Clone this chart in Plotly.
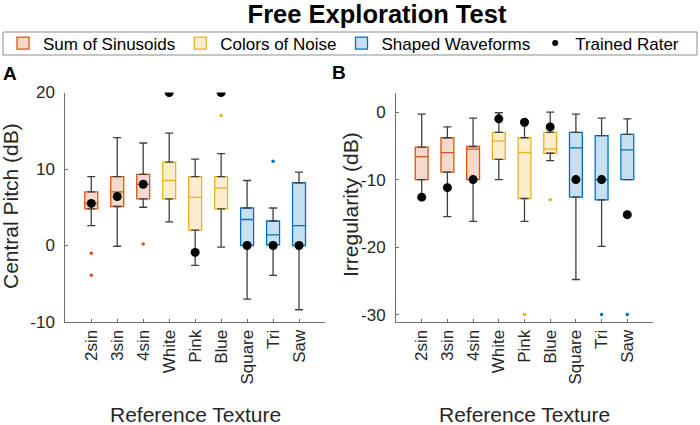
import plotly.graph_objects as go

categories = ["2sin", "3sin", "4sin", "White", "Pink", "Blue", "Square", "Tri", "Saw"]
groups = ["Sum of Sinusoids"] * 3 + ["Colors of Noise"] * 3 + ["Shaped Waveforms"] * 3

# Panel A: Central Pitch (dB)
a_ticks = [-10, 0, 10, 20]
a_low = [2.6, -0.1, 5.0, 3.1, -2.6, -0.2, -7.0, -3.9, -8.4]
a_q1 = [4.8, 5.1, 6.1, 6.1, 2.0, 4.8, 0.0, 0.1, 0.0]
a_med = [5.5, 7.0, 8.0, 8.5, 6.3, 7.5, 3.4, 1.4, 2.6]
a_q3 = [7.0, 9.0, 9.3, 10.9, 9.0, 9.0, 4.9, 3.2, 8.2]
a_high = [9.0, 14.1, 13.4, 14.7, 11.3, 12.0, 8.5, 4.9, 9.6]
a_out_x = ["2sin", "2sin", "4sin", "Blue", "Tri"]
a_out_y = [-1.0, -3.9, 0.2, 17.0, 11.0]
a_rater = [5.5, 6.4, 8.0, 20.0, -0.9, 20.0, 0.0, 0.0, 0.0]

# Panel B: Irregularity (dB)
b_ticks = [-30, -20, -10, 0]
b_low = [-12.6, -15.5, -16.2, -10.0, -16.2, -7.2, -24.8, -19.9, -10.0]
b_q1 = [-10.0, -8.9, -10.0, -7.0, -12.8, -6.1, -12.6, -13.0, -10.0]
b_med = [-6.6, -6.0, -5.5, -4.3, -6.0, -5.5, -5.3, -10.0, -5.6]
b_q3 = [-5.2, -3.8, -5.1, -3.0, -3.8, -3.0, -3.0, -3.5, -3.3]
b_high = [-0.3, -2.2, -0.9, -0.1, -1.3, 0.0, -0.3, -0.9, -1.0]
b_out_x = ["Pink", "Blue", "Tri", "Saw"]
b_out_y = [-30.0, -13.0, -30.0, -30.0]
b_rater = [-12.6, -11.2, -10.0, -1.0, -1.5, -2.2, -10.0, -10.0, -15.2]

line_col = {"Sum of Sinusoids": "#D95319", "Colors of Noise": "#EDB120", "Shaped Waveforms": "#0072BD"}
fill_col = {"Sum of Sinusoids": "rgba(217,83,25,0.22)", "Colors of Noise": "rgba(237,177,32,0.22)",
            "Shaped Waveforms": "rgba(0,114,189,0.22)"}
whisk_col = "#3f3f3f"
axis_col = "#6e6e6e"
FONT = "Liberation Sans, Arial, Helvetica, sans-serif"

W, H = 700, 425


def px(x):
    return x / W


def py(y):
    return 1 - y / H


pos = {c: i + 1 for i, c in enumerate(categories)}

fig = go.Figure()


def add_panel(xa, ya, low, q1, med, q3, high, out_x, out_y, rater, legend):
    xs = [pos[c] for c in categories]
    # whiskers (gray) drawn via error bars from box edges
    fig.add_trace(go.Scatter(
        x=xs + xs, y=q3 + q1, mode="markers",
        marker=dict(size=1, color="rgba(0,0,0,0)"),
        error_y=dict(type="data", symmetric=False,
                     array=[h - t for h, t in zip(high, q3)] + [0] * len(q1),
                     arrayminus=[0] * len(q3) + [b - l for b, l in zip(q1, low)],
                     color=whisk_col, thickness=1.3, width=4),
        xaxis=xa, yaxis=ya, showlegend=False, hoverinfo="skip"))
    shown = set()
    for i, c in enumerate(categories):
        g = groups[i]
        fig.add_trace(go.Box(
            x=[pos[c]], q1=[q1[i]], median=[med[i]], q3=[q3[i]],
            lowerfence=[q1[i]], upperfence=[q3[i]],
            width=0.5, boxpoints=False, whiskerwidth=0,
            line=dict(color=line_col[g], width=1.3), fillcolor=fill_col[g],
            name=g, legendgroup=g,
            showlegend=(legend and g not in shown),
            xaxis=xa, yaxis=ya))
        shown.add(g)
    # outliers
    fig.add_trace(go.Scatter(
        x=[pos[c] for c in out_x], y=out_y, mode="markers",
        marker=dict(size=3.5, color=[line_col[groups[categories.index(c)]] for c in out_x]),
        xaxis=xa, yaxis=ya, showlegend=False))
    # trained rater
    fig.add_trace(go.Scatter(
        x=xs, y=rater, mode="markers", marker=dict(size=9, color="black"),
        name="Trained Rater", showlegend=False, xaxis=xa, yaxis=ya))


add_panel("x", "y", a_low, a_q1, a_med, a_q3, a_high, a_out_x, a_out_y, a_rater, True)
add_panel("x2", "y2", b_low, b_q1, b_med, b_q3, b_high, b_out_x, b_out_y, b_rater, False)

# legend-only entry for the rater marker
fig.add_trace(go.Scatter(x=[None], y=[None], mode="markers", marker=dict(size=6, color="black"),
                         name="Trained Rater", showlegend=True))

ydom = [py(322), py(92.5)]

xaxis_common = dict(
    range=[0, 10], tickvals=list(range(1, 10)), ticktext=categories, tickangle=-90,
    ticks="inside", ticklen=3, tickcolor=axis_col, showline=True, linecolor=axis_col, linewidth=1,
    showgrid=False, zeroline=False, tickfont=dict(size=17, color="#262626", family=FONT),
    automargin=False)
yaxis_common = dict(
    ticks="inside", ticklen=3, tickcolor=axis_col, showline=True, linecolor=axis_col, linewidth=1,
    showgrid=False, zeroline=False, tickfont=dict(size=17, color="#262626", family=FONT),
    automargin=False, ticklabelstandoff=6)

fig.update_layout(
    width=W, height=H,
    margin=dict(l=0, r=0, t=0, b=0),
    paper_bgcolor="white", plot_bgcolor="white",
    font=dict(family=FONT, color="#262626"),
    boxmode="overlay",
    title=dict(text="<b>Free Exploration Test</b>", x=px(377), xanchor="center", y=py(14),
               yanchor="middle", yref="paper", font=dict(size=25.5, color="black", family=FONT)),
    xaxis=dict(xaxis_common, domain=[px(65.3), px(325)], anchor="y"),
    yaxis=dict(yaxis_common, domain=ydom, range=[-10, 20], tickvals=a_ticks,
               ticktext=[str(v) for v in a_ticks], anchor="x"),
    xaxis2=dict(xaxis_common, domain=[px(396), px(653)], anchor="y2"),
    yaxis2=dict(yaxis_common, domain=ydom, range=[-31.1, 2.9], tickvals=b_ticks,
                ticktext=[str(v) for v in b_ticks], anchor="x2"),
    legend=dict(orientation="h", x=px(3), xanchor="left", y=py(43.5), yanchor="middle",
                borderwidth=0, bgcolor="rgba(0,0,0,0)",
                font=dict(size=17, color="black", family=FONT), itemclick=False),
    showlegend=True,
)

# legend frame
fig.add_shape(type="rect", xref="paper", yref="paper", x0=px(3), x1=px(697), y0=py(55), y1=py(32),
              line=dict(color="#8c8c8c", width=1), fillcolor="rgba(0,0,0,0)", layer="below")

ann = [
    dict(text="Central Pitch (dB)", x=px(11), y=py(206), textangle=-90, font=dict(size=21)),
    dict(text="Irregularity (dB)", x=px(350), y=py(205), textangle=-90, font=dict(size=21)),
    dict(text="Reference Texture", x=px(195), y=py(414), font=dict(size=21)),
    dict(text="Reference Texture", x=px(524), y=py(414), font=dict(size=21)),
    dict(text="<b>A</b>", x=px(10), y=py(74), font=dict(size=19, color="black")),
    dict(text="<b>B</b>", x=px(339), y=py(72), font=dict(size=19, color="black")),
]
for a in ann:
    fig.add_annotation(dict(a, xref="paper", yref="paper", showarrow=False,
                            xanchor="center", yanchor="middle"))

fig.write_html("out.html", config={"displayModeBar": False},
               post_script="document.body.style.margin='0px';")
